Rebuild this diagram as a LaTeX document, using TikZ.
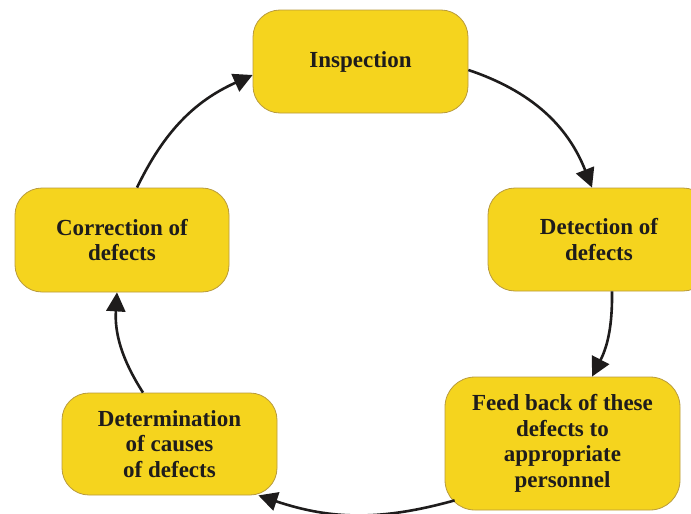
\documentclass[tikz,border=0pt]{standalone}
\usepackage{fontspec}
\setmainfont{Liberation Serif}
\usetikzlibrary{arrows.meta,calc}
\definecolor{boxfill}{RGB}{245,212,30}
\definecolor{boxline}{RGB}{185,155,60}
\definecolor{ink}{RGB}{30,28,28}
\begin{document}
\begin{tikzpicture}[x=1pt,y=-1pt,
  stage/.style={draw=boxline, line width=0.8pt, fill=boxfill, rounded corners=27pt, inner sep=0pt, align=center, font=\fontsize{23}{25.5}\selectfont\bfseries, text=ink},
  flow/.style={draw=ink, line width=2.6pt, -{Triangle[length=19pt,width=19pt]}}]
\clip (0,0) rectangle (691,514);
\fill[white] (0,0) rectangle (691,514);
\node[stage, minimum width=215pt, minimum height=103pt] (insp) at (360.5,61.5) {Inspection};
\node[stage, minimum width=222pt, minimum height=103pt] (det) at (599,239.5) {Detection of\\defects};
\node[stage, minimum width=235pt, minimum height=133pt, rounded corners=30pt] (feed) at (562.5,443.5) {Feed back of these\\defects to\\appropriate\\personnel};
\node[stage, minimum width=215pt, minimum height=102pt] (detm) at (169.5,444) {Determination\\of causes\\of defects};
\node[stage, minimum width=214pt, minimum height=104pt] (corr) at (122,240) {Correction of\\defects};
\draw[flow] ($(insp.east)+(0,8.5)$) to[bend left=25] ($(det.north)+(-7,0)$);
\draw[flow] ($(det.south)+(13,0)$) to[bend left=14] ($(feed.north)+(29.5,0)$);
\draw[flow] ($(feed.south west)+(10,-10)$) to[bend left=17] ($(detm.south east)+(-19,0)$);
\draw[flow] ($(detm.north)+(-26.5,0)$) to[bend left=18] ($(corr.south)+(-5,0)$);
\draw[flow] ($(corr.north)+(15,0)$) to[bend left=20] ($(insp.west)+(0,13.5)$);
\end{tikzpicture}
\end{document}
